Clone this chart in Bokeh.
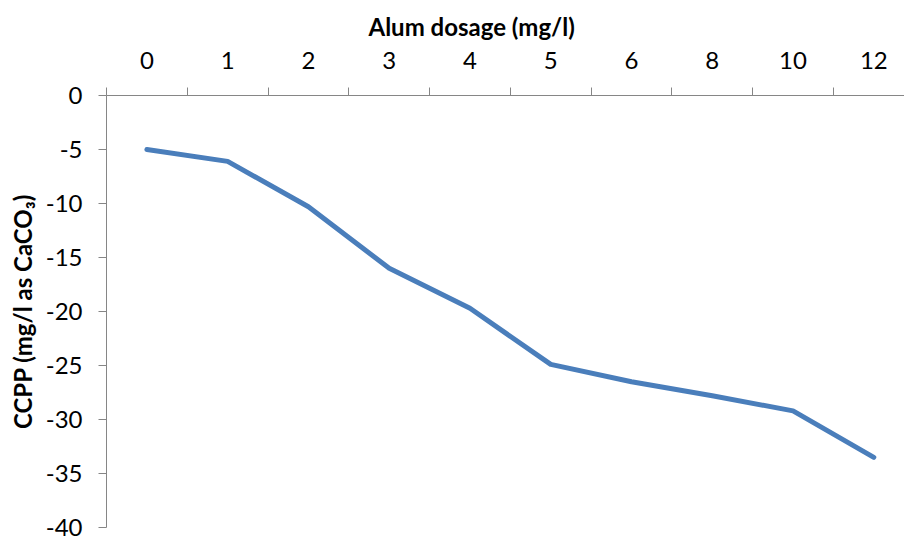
from bokeh.plotting import figure
from bokeh.models import Range1d, FixedTicker
from bokeh.embed import file_html
from bokeh.resources import INLINE

# Alum dosage categories (mg/l) and the resulting CCPP (mg/l as CaCO3)
dosage = ["0", "1", "2", "3", "4", "5", "6", "8", "10", "12"]
ccpp = [-5.0, -6.1, -10.3, -16.0, -19.7, -24.9, -26.5, -27.8, -29.2, -33.5]
y_ticks = [0, -5, -10, -15, -20, -25, -30, -35, -40]

FONT = "Lato"
SIZE = "24px"
AXIS_GREY = "#868686"
SERIES_BLUE = "#4A7EBB"

# categories sit at the centre of equal slots; ticks mark slot boundaries
centres = [i + 0.5 for i in range(len(dosage))]
bounds = list(range(len(dosage) + 1))

p = figure(
    width=904, height=542,
    output_backend="svg", toolbar_location=None,
    x_range=Range1d(0, 9.88), y_range=Range1d(-40, 0),
    x_axis_location="above",
    min_border_left=106, min_border_top=95,
    min_border_right=0, min_border_bottom=15,
)
p.outline_line_color = None
p.grid.visible = False
p.background_fill_color = "white"
p.border_fill_color = "white"

p.line(centres, ccpp, line_color=SERIES_BLUE, line_width=5,
       line_join="round", line_cap="round")

# top category axis
xa = p.xaxis[0]
xa.ticker = FixedTicker(ticks=centres, minor_ticks=bounds)
xa.major_label_overrides = {c: lab for c, lab in zip(centres, dosage)}
xa.major_tick_in = 0
xa.major_tick_out = 0
xa.minor_tick_in = 0
xa.minor_tick_out = 8
xa.minor_tick_line_color = AXIS_GREY
xa.axis_line_color = AXIS_GREY
xa.major_label_text_font = FONT
xa.major_label_text_font_size = SIZE
xa.major_label_text_color = "black"
xa.major_label_standoff = 19

p.title.text = "Alum dosage (mg/l)"
p.title.align = "left"
p.title.offset = 262
p.title.standoff = 16
p.title.text_font = FONT
p.title.text_font_size = SIZE
p.title.text_font_style = "bold"
p.title.text_color = "black"

# value axis, labelled with plain hyphen-minus
ya = p.yaxis[0]
ya.ticker = FixedTicker(ticks=y_ticks)
ya.major_label_overrides = {t: str(t) for t in y_ticks}
ya.major_tick_in = 0
ya.major_tick_out = 8
ya.minor_tick_line_color = None
ya.major_tick_line_color = AXIS_GREY
ya.axis_line_color = AXIS_GREY
ya.major_label_text_font = FONT
ya.major_label_text_font_size = SIZE
ya.major_label_text_color = "black"
ya.major_label_standoff = 16
ya.axis_label = "CCPP (mg/l as CaCO\u2083)"
ya.axis_label_text_font = FONT
ya.axis_label_text_font_size = SIZE
ya.axis_label_text_font_style = "bold"
ya.axis_label_text_color = "black"
ya.axis_label_standoff = 6

open("out.html", "w").write(file_html(p, INLINE))
